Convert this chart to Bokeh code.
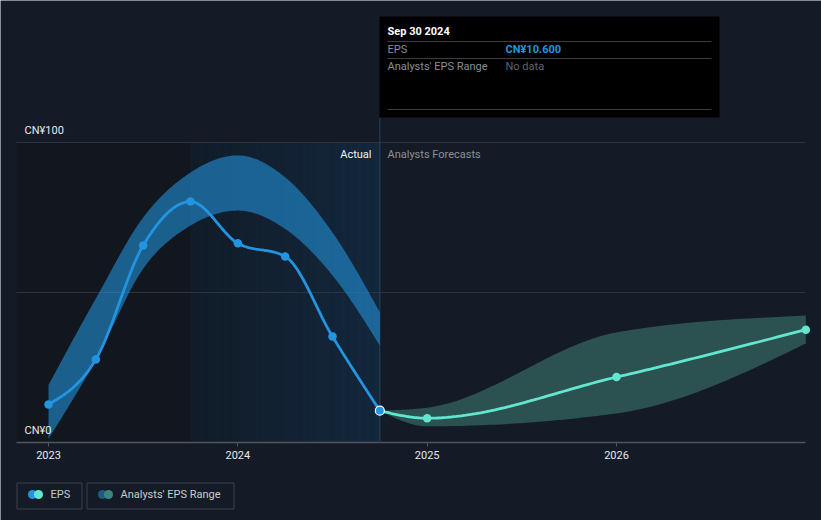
import numpy as np
from bokeh.plotting import figure
from bokeh.models import Range1d, LinearAxis, FixedTicker
from bokeh.core.properties import value
from bokeh.embed import file_html
from bokeh.resources import INLINE

# ---------------- data ----------------
hist_dates = [2023.0, 2023.25, 2023.5, 2023.75, 2024.0, 2024.25, 2024.5, 2024.75]
hist_eps = [12.7, 27.7, 65.7, 80.3, 66.4, 62.0, 35.3, 10.6]
hist_range_low = [1.2, 27.5, 57.9, 72.3, 77.3, 71.2, 55.7, 32.3]
hist_range_high = [19.2, 48.0, 75.0, 90.0, 95.7, 88.4, 70.0, 43.4]

fc_dates = [2024.75, 2025.0, 2026.0, 2027.0]
fc_eps = [10.6, 8.1, 21.8, 37.6]
fc_low = [10.6, 5.4, 9.7, 33.0]
fc_high = [10.6, 11.6, 36.7, 42.3]

x_ticks = [2023, 2024, 2025, 2026]
x_tick_labels = ["2023", "2024", "2025", "2026"]
y_label_values = [100, 0]
y_label_texts = ["CN¥100", "CN¥0"]
y_grid_values = [100, 50]
split_date = 2024.75
shade_start = 2023.75

tooltip_title = "Sep 30 2024"
tooltip_rows = [("EPS", "CN¥10.600"), ("Analysts' EPS Range", "No data")]
legend_items = ["EPS", "Analysts' EPS Range"]

# ---------------- style ----------------
BG = "#151b26"
FONT = value("Roboto")
BLUE = "#2394df"
TEAL = "#63e6cf"
W, H = 821, 520


# pixel (reference screenshot) -> data helpers, for decorations only
def dx(sx):
    return 2023 + (sx - 48) / 189.333


def dy(sy):
    return (442 - sy) / 3.0


def monotone(xs, ys, n=40):
    """Render helper: sample a monotone-x cubic through the given points."""
    x = np.asarray(xs, float)
    y = np.asarray(ys, float)
    m = len(x)
    h = np.diff(x)
    s = np.diff(y) / h
    t = np.zeros(m)
    for i in range(1, m - 1):
        h0, h1, s0, s1 = h[i - 1], h[i], s[i - 1], s[i]
        pp = (s0 * h1 + s1 * h0) / (h0 + h1)
        t[i] = (np.sign(s0) + np.sign(s1)) * min(abs(s0), abs(s1), 0.5 * abs(pp))
    t[0] = (3 * s[0] - t[1]) / 2 if m > 2 else s[0]
    t[-1] = (3 * s[-1] - t[-2]) / 2 if m > 2 else s[-1]
    X, Y = [], []
    u = np.linspace(0, 1, n)
    for i in range(m - 1):
        x0, x1, y0, y1 = x[i], x[i + 1], y[i], y[i + 1]
        d = (x1 - x0) / 3
        cx = [x0, x0 + d, x1 - d, x1]
        cy = [y0, y0 + d * t[i], y1 - d * t[i + 1], y1]
        b = [(1 - u) ** 3, 3 * u * (1 - u) ** 2, 3 * u ** 2 * (1 - u), u ** 3]
        X.extend(sum(b[k] * cx[k] for k in range(4)))
        Y.extend(sum(b[k] * cy[k] for k in range(4)))
    return np.array(X), np.array(Y)


p = figure(
    width=W, height=H,
    x_range=Range1d(dx(0), dx(W)), y_range=Range1d(dy(H), dy(0)),
    output_backend="svg", toolbar_location=None,
    x_axis_location=None, y_axis_location=None,
    min_border=0, min_border_left=0, min_border_right=0,
    min_border_top=0, min_border_bottom=0,
    background_fill_color=BG, border_fill_color=BG, outline_line_color=None,
)
p.grid.visible = False

# background regions
p.quad(left=[dx(16)], right=[shade_start], bottom=[0], top=[100], fill_color="#12161e", line_color=None)
n_strips = 24
edges = np.linspace(shade_start, split_date, n_strips + 1)
c0 = np.array([0x11, 0x1c, 0x29])
c1 = np.array([0x13, 0x27, 0x3c])
cols = []
for i in range(n_strips):
    c = np.round(c0 + (c1 - c0) * (i + 0.5) / n_strips).astype(int)
    cols.append("#%02x%02x%02x" % tuple(c))
p.quad(left=edges[:-1], right=edges[1:], bottom=0, top=100, fill_color=cols, line_color=cols, line_width=1)

# grid lines and axis line
p.segment(x0=dx(16), x1=dx(805), y0=y_grid_values, y1=y_grid_values, line_color="#2e343e", line_width=1)
p.segment(x0=[dx(16)], x1=[dx(805)], y0=[0], y1=[0], line_color="#50555e", line_width=1.5)

# divider line
p.segment(x0=[split_date], x1=[split_date], y0=[0], y1=[dy(117)], line_color="#27405a", line_width=1)

# historic analyst band
ux, uy = monotone(hist_dates, hist_range_high)
lx, ly = monotone(hist_dates, hist_range_low)
p.patch(np.concatenate([ux, lx[::-1]]), np.concatenate([uy, ly[::-1]]),
        fill_color=BLUE, fill_alpha=0.58, line_color=None)

# forecast band
ux, uy = monotone(fc_dates, fc_high)
lx, ly = monotone(fc_dates, fc_low)
p.patch(np.concatenate([ux, lx[::-1]]), np.concatenate([uy, ly[::-1]]),
        fill_color="#5ac4ac", fill_alpha=0.32, line_color=None)

# EPS lines
hx, hy = monotone(hist_dates, hist_eps)
p.line(hx, hy, line_color=BLUE, line_width=2.8)
fx, fy = monotone(fc_dates, fc_eps)
p.line(fx, fy, line_color=TEAL, line_width=2.8)
p.scatter(hist_dates[:-1], hist_eps[:-1], size=8.5, fill_color=BLUE, line_color=None)
p.scatter(fc_dates[1:], fc_eps[1:], size=8.5, fill_color=TEAL, line_color=None)
p.scatter([hist_dates[-1]], [hist_eps[-1]], size=9, fill_color=BLUE, line_color="white", line_width=1.2)

# x axis pinned at 0
ax = LinearAxis(fixed_location=0, ticker=FixedTicker(ticks=x_ticks),
                major_label_overrides={t: l for t, l in zip(x_ticks, x_tick_labels)})
ax.axis_line_color = None
ax.major_tick_line_color = "#50555e"
ax.major_tick_in = 0
ax.major_tick_out = 4
ax.minor_tick_line_color = None
ax.major_label_text_color = "#e6e8eb"
ax.major_label_text_font = "Roboto"
ax.major_label_text_font_size = "11px"
ax.major_label_standoff = 4
p.add_layout(ax, "below")

# y labels
p.text(x=[dx(24)] * 2, y=[dy(130), dy(430)], text=y_label_texts,
       text_font=FONT, text_font_size=value("11px"), text_color="#e6e8eb",
       text_baseline="middle", text_align="left")

# Actual / Analysts Forecasts
p.text(x=[dx(371)], y=[dy(154)], text=["Actual"], text_font=FONT, text_font_size=value("11px"),
       text_color="#f0f2f4", text_baseline="middle", text_align="right")
p.text(x=[dx(387)], y=[dy(154)], text=["Analysts Forecasts"], text_font=FONT, text_font_size=value("11px"),
       text_color="#8a9099", text_baseline="middle", text_align="left")

# tooltip box
p.quad(left=[dx(379)], right=[dx(719)], top=[dy(16)], bottom=[dy(117)], fill_color="#000000", line_color=None)
p.segment(x0=dx(387), x1=dx(711), y0=[dy(41), dy(58), dy(109)], y1=[dy(41), dy(58), dy(109)],
          line_color="#3a3d42", line_width=1)
p.text(x=[dx(387)], y=[dy(31)], text=[tooltip_title], text_font=FONT, text_font_size=value("11px"),
       text_color="#ffffff", text_font_style="bold", text_baseline="middle")
p.text(x=[dx(387), dx(387)], y=[dy(49), dy(66)], text=[r[0] for r in tooltip_rows], text_font=FONT,
       text_font_size=value("11px"), text_color="#8a8f96", text_baseline="middle")
p.text(x=[dx(505)], y=[dy(49)], text=[tooltip_rows[0][1]], text_font=FONT, text_font_size=value("11px"),
       text_color=BLUE, text_font_style="bold", text_baseline="middle")
p.text(x=[dx(505)], y=[dy(66)], text=[tooltip_rows[1][1]], text_font=FONT, text_font_size=value("11px"),
       text_color="#5f646b", text_baseline="middle")

# legend
p.quad(left=[dx(16.5), dx(86.5)], right=[dx(81.5), dx(233.5)], top=[dy(482.5)] * 2, bottom=[dy(508.5)] * 2,
       fill_color=None, line_color="#3c414a", line_width=1)
p.scatter([dx(32), dx(102)], [dy(494)] * 2, size=9, fill_color=[BLUE, "#1d5b86"], line_color=None)
p.scatter([dx(38), dx(108)], [dy(494)] * 2, size=9, fill_color=[TEAL, "#3e8581"], line_color=None)
p.text(x=[dx(50), dx(120)], y=[dy(494)] * 2, text=legend_items, text_font=FONT, text_font_size=value("11px"),
       text_color="#c9ccd1", text_baseline="middle")

open("out.html", "w").write(file_html(p, INLINE))
